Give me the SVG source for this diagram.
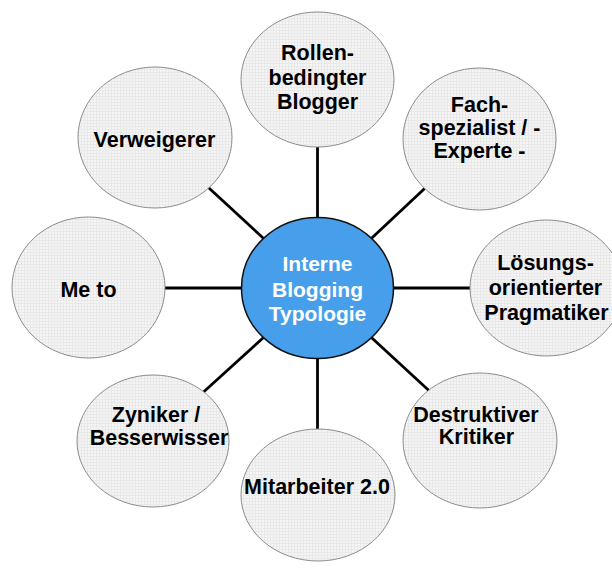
<svg xmlns="http://www.w3.org/2000/svg" width="612" height="568" viewBox="0 0 612 568">
  <defs>
    <pattern id="grid" width="3" height="3" patternUnits="userSpaceOnUse">
      <rect width="3" height="3" fill="#F5F5F5"/>
      <path d="M0 0.5H3M0.5 0V3" stroke="#E9E9E9" stroke-width="1"/>
    </pattern>
  </defs>
  <style>
    .sat { fill: url(#grid); stroke: #8C8C8C; stroke-width: 1; }
    .hub { fill: #479FEC; stroke: #111111; stroke-width: 1.5; }
    .lbl { font-family: "Liberation Sans", Arial, Helvetica, sans-serif; font-weight: bold; font-size: 21.5px; fill: #000000; text-anchor: middle; }
    .hubl { font-family: "Liberation Sans", Arial, Helvetica, sans-serif; font-weight: bold; font-size: 21px; fill: #FFFFFF; text-anchor: middle; }
    .con { stroke: #000000; stroke-width: 2.8; fill: none; }
  </style>
  <rect width="612" height="568" fill="#FFFFFF"/>
  <g id="connectors">
    <line class="con" x1="317.5" y1="140" x2="317.5" y2="225"/>
    <line class="con" x1="317.5" y1="350" x2="317.5" y2="436"/>
    <line class="con" x1="158" y1="288" x2="250" y2="288"/>
    <line class="con" x1="385" y1="288" x2="477" y2="288"/>
    <line class="con" x1="203.5" y1="183" x2="268.5" y2="243"/>
    <line class="con" x1="430.5" y1="183" x2="366.5" y2="243"/>
    <line class="con" x1="268.5" y1="333" x2="203.5" y2="392"/>
    <line class="con" x1="366.5" y1="333" x2="430.5" y2="392"/>
  </g>
  <g id="node-rollen">
    <ellipse class="sat" cx="317.5" cy="79.5" rx="76.5" ry="67.5"/>
    <text class="lbl" x="317.5" y="60">Rollen-</text>
    <text class="lbl" x="317.5" y="85">bedingter</text>
    <text class="lbl" x="317.5" y="109">Blogger</text>
  </g>
  <g id="node-fach">
    <ellipse class="sat" cx="479.5" cy="139" rx="76.5" ry="71"/>
    <text class="lbl" x="479.5" y="112">Fach-</text>
    <text class="lbl" x="479.5" y="135">spezialist / -</text>
    <text class="lbl" x="479.5" y="158">Experte -</text>
  </g>
  <g id="node-loesungs">
    <ellipse class="sat" cx="546.5" cy="288" rx="76.5" ry="68"/>
    <text class="lbl" x="545.5" y="270">Lösungs-</text>
    <text class="lbl" x="545.5" y="295">orientierter</text>
    <text class="lbl" x="546.5" y="320">Pragmatiker</text>
  </g>
  <g id="node-destruktiver">
    <ellipse class="sat" cx="480" cy="440.5" rx="77" ry="67.5"/>
    <text class="lbl" x="476" y="422">Destruktiver</text>
    <text class="lbl" x="476.5" y="444">Kritiker</text>
  </g>
  <g id="node-mitarbeiter">
    <ellipse class="sat" cx="318" cy="495" rx="77" ry="66"/>
    <text class="lbl" x="317" y="494">Mitarbeiter 2.0</text>
  </g>
  <g id="node-zyniker">
    <ellipse class="sat" cx="153" cy="441" rx="76" ry="66"/>
    <text class="lbl" x="156" y="422">Zyniker /</text>
    <text class="lbl" x="159" y="445">Besserwisser</text>
  </g>
  <g id="node-meto">
    <ellipse class="sat" cx="88.5" cy="287.5" rx="76.5" ry="70.5"/>
    <text class="lbl" x="88.5" y="297">Me to</text>
  </g>
  <g id="node-verweigerer">
    <ellipse class="sat" cx="155" cy="137.5" rx="77" ry="70.5"/>
    <text class="lbl" x="154.5" y="147">Verweigerer</text>
  </g>
  <g id="node-center">
    <ellipse class="hub" cx="317.5" cy="288" rx="76" ry="70.5"/>
    <text class="hubl" x="317.5" y="271">Interne</text>
    <text class="hubl" x="317.5" y="297">Blogging</text>
    <text class="hubl" x="317.5" y="321">Typologie</text>
  </g>
</svg>
